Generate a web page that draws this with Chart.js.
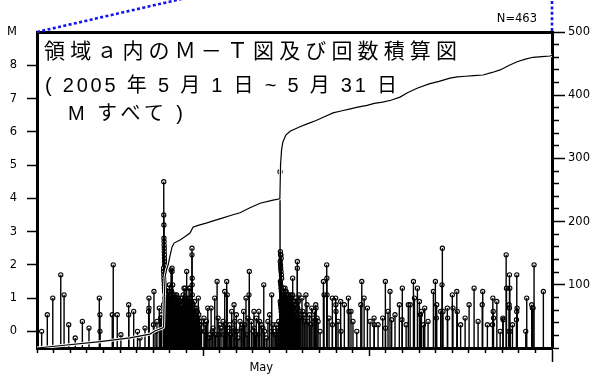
<!DOCTYPE html>
<html>
<head>
<meta charset="utf-8">
<script src="https://cdn.jsdelivr.net/npm/chart.js"></script>
<style>
html,body{margin:0;padding:0;background:#fff;}
#wrap{width:595px;height:376px;position:relative;}
</style>
</head>
<body>
<div id="wrap"><canvas id="c" width="595" height="376"></canvas></div>
<script>
// ---- data (time in days since 2005-05-01 00:00, magnitude M) ----
const eventDay = [
  // before the first large event
  0.28,0.62,0.95,1.43,1.63,1.91,2.73,3.13,3.75,3.79,3.79,4.53,4.59,4.83,5.52,5.52,5.82,6.20,6.50,6.72,6.74,6.74,7.01,7.04,7.16,7.22,7.36,7.44,7.50,
  2.30,5.05,6.05,
  // first large event (M4.5) column
  7.63,7.63,7.64,7.64,7.65,7.65,7.66,7.66,7.67,7.67,7.68,7.68,7.62,7.62,7.63,7.64,7.65,7.66,7.67,7.68,7.69,7.70,7.62,7.64,
  // its aftershocks
  7.71,7.74,7.77,7.80,7.83,7.86,7.89,7.92,7.97,8.01,8.04,8.07,8.10,8.13,8.13,8.16,8.17,8.20,8.22,8.25,
  8.28,8.31,8.34,8.37,8.41,8.44,8.46,8.49,8.52,8.57,8.61,8.64,8.67,8.71,8.74,8.79,8.82,8.85,8.88,8.91,
  8.94,8.97,9.01,9.04,9.06,9.09,9.12,9.15,9.18,9.21,9.24,9.27,9.33,9.33,9.34,9.34,9.35,9.35,9.36,9.36,
  9.42,9.48,9.55,9.62,9.71,9.78,9.87,
  7.72,7.73,7.75,7.76,7.78,7.79,7.81,7.82,7.84,7.85,7.87,7.88,7.90,7.91,7.93,7.94,7.96,7.99,8.02,8.05,8.08,8.11,8.15,8.19,8.24,8.30,
  8.33,8.36,8.39,8.43,8.47,8.51,8.54,8.56,8.59,8.63,8.66,8.69,8.73,8.77,8.80,8.84,8.87,8.90,8.93,8.96,
  8.99,9.03,9.08,9.11,9.14,9.17,9.20,9.23,9.26,9.29,9.31,9.39,9.45,9.51,9.58,9.65,9.68,9.74,9.82,9.90,
  // between the two large events
  10.05,10.28,10.48,10.70,10.84,11.08,11.30,11.42,11.45,11.72,11.86,11.98,12.22,12.44,12.58,12.78,12.76,13.06,13.08,13.35,13.65,14.13,14.27,
  10.15,10.40,10.90,11.20,11.60,12.00,12.30,12.90,13.20,13.50,13.90,14.00,14.40,
  10.10,10.35,10.60,10.75,11.00,11.25,11.55,11.80,12.10,12.35,12.65,13.00,13.30,13.60,13.80,14.10,14.35,14.50,
  10.20,10.55,10.95,11.35,11.65,11.90,12.05,12.50,12.70,13.15,13.40,13.70,14.20,14.45,14.55,
  // second large event (M4.8) column
  14.63,14.65,14.66,14.68,14.70,14.64,14.66,14.67,14.69,14.71,14.73,14.65,14.67,14.69,14.71,14.73,14.75,14.64,14.66,14.68,14.70,14.72,14.74,14.76,14.78,14.80,14.79,
  // its aftershocks
  14.84,14.87,14.90,14.93,14.96,14.99,15.02,15.05,15.08,15.11,15.14,15.17,15.20,15.23,15.26,15.29,15.32,15.35,15.39,15.39,
  15.42,15.44,15.47,15.50,15.53,15.56,15.59,15.62,15.67,15.67,15.69,15.73,15.77,15.80,15.83,
  14.82,14.85,14.88,14.91,14.94,14.97,15.00,15.03,15.06,15.09,15.12,
  14.83,14.86,14.89,14.92,14.95,14.98,15.01,15.04,15.07,15.10,15.13,15.16,15.19,15.22,15.25,15.28,15.31,15.34,15.37,15.41,
  15.88,16.00,16.12,16.25,16.40,16.48,16.70,16.86,
  // rest of the month
  15.95,16.07,16.19,16.31,16.54,16.62,16.78,16.80,16.92,17.04,
  17.24,17.28,17.44,17.45,17.46,17.58,17.78,17.78,17.98,17.99,
  18.00,18.12,18.28,18.30,18.50,18.74,18.78,18.90,19.02,19.25,
  19.49,19.55,19.69,19.89,20.05,20.29,20.30,20.53,20.81,20.97,
  20.98,21.13,21.25,21.35,21.55,21.81,21.99,21.97,22.22,22.35,
  22.46,22.66,22.72,22.90,23.02,23.08,23.14,23.26,23.34,23.54,
  23.86,23.98,24.06,24.04,24.30,24.40,24.38,24.44,24.70,24.72,
  25.00,25.04,25.27,25.30,25.50,25.77,26.01,26.31,26.55,26.83,
  26.80,27.11,27.44,27.46,27.48,27.42,27.68,27.88,28.04,28.06,
  28.24,28.26,28.44,28.46,28.42,28.44,28.40,28.48,28.62,28.88,
  28.90,28.88,28.86,29.42,29.48,29.78,29.82,29.86,29.92,30.48
];
const eventMag = [
  0.0,0.5,1.0,1.7,1.1,0.2,0.3,0.1,1.0,0.5,0.0,0.5,2.0,0.5,0.8,0.5,0.6,-0.2,0.1,0.6,1.0,0.7,0.2,1.2,0.0,0.3,0.7,0.4,0.5,
  -0.2,-0.1,0.0,
  4.5,3.5,3.2,2.8,2.7,2.6,2.5,2.4,2.3,2.2,2.1,2.0,1.9,1.8,1.7,1.6,1.5,1.4,1.3,1.2,1.0,0.9,0.8,0.6,
  1.4,0.9,0.6,1.1,0.4,0.8,1.2,0.5,1.4,0.7,1.0,1.85,0.3,1.8,1.9,0.8,1.4,0.6,1.1,0.9,
  0.4,1.1,0.7,1.0,1.1,0.5,0.8,0.3,1.0,0.9,0.6,0.2,0.65,0.6,0.9,0.4,0.7,1.3,0.5,1.3,
  0.8,0.6,1.8,0.4,1.0,0.7,0.3,1.3,0.9,1.3,0.5,0.8,2.5,2.3,1.6,1.4,1.1,0.8,0.55,0.35,
  0.6,0.9,0.4,0.7,1.0,0.3,0.0,
  0.7,1.1,0.3,0.8,1.0,0.5,0.2,0.9,0.6,1.3,0.4,0.7,1.0,0.3,0.8,0.6,1.1,0.5,0.9,0.4,0.7,1.2,0.5,1.0,0.6,0.8,
  0.6,0.9,0.4,0.8,1.0,0.5,0.7,0.3,0.9,0.6,1.0,0.4,0.8,0.5,1.1,0.6,0.9,0.3,0.7,1.0,
  0.5,0.8,0.4,0.9,0.6,1.0,0.5,0.7,0.3,0.9,0.6,0.8,0.5,0.7,0.3,0.6,0.4,0.5,0.2,0.3,
  0.4,0.7,0.7,1.0,1.5,0.1,1.2,1.5,1.1,0.6,0.8,0.0,0.3,0.6,1.0,1.8,1.1,0.6,0.1,0.6,1.4,1.1,0.0,
  0.2,-0.1,0.4,0.3,0.2,0.5,0.1,0.3,0.4,0.2,0.3,0.5,0.2,
  0.0,-0.2,0.1,-0.1,0.2,-0.1,0.0,0.1,-0.2,0.2,-0.1,0.0,-0.1,0.1,-0.2,0.0,-0.1,0.1,
  0.3,0.0,-0.1,0.2,-0.1,0.3,0.0,0.2,0.4,-0.1,0.3,0.0,0.2,-0.1,0.3,
  4.8,2.4,2.3,2.3,2.2,2.1,2.0,1.9,1.8,1.7,1.6,1.5,1.4,1.3,1.2,1.1,1.0,0.9,0.8,0.7,0.6,0.5,0.4,0.3,0.2,0.1,0.0,
  1.3,0.9,0.6,1.3,0.4,0.8,1.1,0.5,1.0,0.7,0.3,1.1,0.6,0.9,0.4,0.8,1.0,0.5,1.6,1.1,
  0.7,0.3,0.9,0.6,0.8,0.4,1.0,0.5,2.1,1.9,0.7,0.9,1.1,0.4,0.6,
  0.7,0.2,1.1,0.5,0.8,0.1,1.2,0.6,0.3,0.8,1.0,
  0.5,1.0,0.3,0.7,1.2,0.6,0.9,0.4,0.8,1.1,0.5,0.7,1.0,0.4,0.6,1.1,0.3,0.8,0.5,0.9,
  0.4,0.6,0.3,0.8,0.5,0.2,0.6,0.4,
  1.0,0.5,1.1,0.3,0.7,0.4,0.8,0.7,0.3,0.0,
  1.5,1.1,2.0,1.6,1.1,0.4,1.0,0.2,1.0,0.8,
  0.6,0.3,0.9,0.0,0.8,1.0,0.6,0.6,0.3,0.0,
  0.8,1.5,1.0,0.7,0.3,0.4,0.2,0.2,0.4,1.5,
  0.1,0.6,1.2,0.35,0.5,0.8,1.3,0.35,0.2,0.8,
  0.8,1.5,1.0,1.3,0.9,0.5,0.6,0.2,0.7,0.3,
  1.2,1.5,0.8,0.4,0.6,2.5,1.4,0.6,0.7,0.4,
  1.1,0.7,1.2,0.6,0.2,0.4,0.8,1.3,0.3,1.2,
  0.8,0.2,1.0,0.6,0.4,0.2,0.9,0.0,0.4,0.35,
  2.3,1.3,1.7,1.3,0.8,0.7,0.0,0.0,0.2,1.7,
  0.7,0.6,0.35,0.0,1.0,0.8,0.7,0.7,2.0,1.2
];
// cumulative number of events (right axis)
const cumDay = [0,1.5,3.8,5.6,6.8,7.1,7.58,7.62,7.66,7.71,7.8,7.9,8.0,8.13,8.25,8.61,8.9,9.21,9.39,9.7,
  10.23,10.7,11.2,11.7,12.22,12.82,13.43,14.21,14.62,14.66,14.72,14.8,14.98,15.23,15.83,16.3,16.8,17.3,17.82,18.3,
  18.8,19.3,19.87,20.3,20.8,21.3,21.85,22.3,22.88,23.6,24.2,24.86,25.3,25.8,26.3,26.85,27.4,27.88,28.4,28.9,
  29.4,29.86,30.4,30.88,31];
const cumCount = [0,4,10,16,22,27,32,34,80,112,124,132,145,160,166,171,176,182,191,194,
  198,202,206,210,214,222,229,234,236,290,313,326,337,343,350,355,360,366,372,375,
  378,381,384,387,389,392,397,404,411,418,422,427,429,430,431,432,436,440,447,453,
  457,460,461,462,463];

// ---- axes ----
const magTicks = [0,1,2,3,4,5,6,7,8,9];
const magTickLabels = ['0','1','2','3','4','5','6','7','8','M'];
const countTicks = [0,20,40,60,80,100,120,140,160,180,200,220,240,260,280,300,320,340,360,380,400,420,440,460,480,500];
const countLabelTicks = [100,200,300,400,500];
const dayTicks = [0,1,2,3,4,5,6,7,8,9,10,11,12,13,14,15,16,17,18,19,20,21,22,23,24,25,26,27,28,29,30,31];
const dayMidTicks = [10,20];
const dayEndTick = 31;
const monthLabel = 'May';
const titleLines = ['領域ａ内のＭ－Ｔ図及び回数積算図', '( 2005 年 5 月 1 日 ~ 5 月 31 日', 'M すべて )'];

const magFloor = -0.5, magCeil = 9;
const monthLabelAt = 13.5;

const stemData = eventDay.map((d, i) => ({x: d, y: [magFloor, eventMag[i]]}));
const dotData = eventDay.map((d, i) => ({x: d, y: eventMag[i]}));
const cumData = cumDay.map((d, i) => ({x: d, y: cumCount[i]}));
const tickFont = {family: '"DejaVu Sans", sans-serif', size: 11.5};

function drawFitted(ctx, text, x, y, width) {
  const hasLS = 'letterSpacing' in ctx;
  if (hasLS) ctx.letterSpacing = '0px';
  const w = ctx.measureText(text).width;
  const n = Array.from(text).length;
  if (hasLS && n > 1) ctx.letterSpacing = ((width - w) / (n - 1)) + 'px';
  ctx.fillText(text, x, y);
  if (hasLS) ctx.letterSpacing = '0px';
}

const overlayPlugin = {
  id: 'overlay',
  afterDraw(chart) {
    const {ctx, chartArea: ca} = chart;
    ctx.save();
    ctx.strokeStyle = '#1414f0';
    ctx.lineWidth = 2.6;
    ctx.setLineDash([3, 2.4]);
    ctx.beginPath();
    ctx.moveTo(ca.left, ca.top);
    ctx.lineTo(ca.left + 150, ca.top - 34.3);
    ctx.moveTo(ca.right, ca.top - 1);
    ctx.lineTo(ca.right, -2);
    ctx.stroke();
    ctx.setLineDash([]);
    ctx.fillStyle = '#000';
    ctx.font = '11.5px "DejaVu Sans"';
    ctx.textAlign = 'right';
    ctx.textBaseline = 'alphabetic';
    ctx.fillText('N=' + cumCount[cumCount.length - 1], ca.right - 15, 21.7);
    ctx.textAlign = 'left';
    ctx.font = '21px "Noto Sans CJK JP"';
    drawFitted(ctx, titleLines[0], ca.left + 7, 57.5, 413);
    ctx.font = '20px "Liberation Sans", "Noto Sans CJK JP"';
    drawFitted(ctx, titleLines[1], ca.left + 8, 92, 352);
    drawFitted(ctx, titleLines[2], ca.left + 31, 120, 115);
    ctx.restore();
  }
};

new Chart(document.getElementById('c'), {
  type: 'bar',
  data: {
    datasets: [
      {type: 'line', data: cumData, xAxisID: 'x', yAxisID: 'yN', borderColor: '#000', borderWidth: 1.2,
       pointRadius: 0, tension: 0, fill: false, order: 0},
      {type: 'line', data: cumData, xAxisID: 'x', yAxisID: 'yN', borderColor: '#fff', borderWidth: 3,
       pointRadius: 0, tension: 0, fill: false, order: 1},
      {type: 'line', data: dotData, xAxisID: 'x', yAxisID: 'y', showLine: false, pointRadius: 2.1,
       pointBorderWidth: 1.1, pointBackgroundColor: 'rgba(255,255,255,0)', pointBorderColor: '#000', borderColor: '#000', order: 2},
      {type: 'bar', data: stemData, xAxisID: 'x', yAxisID: 'y', backgroundColor: '#000', borderWidth: 0,
       barThickness: 1.4, inflateAmount: 0, order: 3}
    ]
  },
  options: {
    responsive: false,
    animation: false,
    events: [],
    devicePixelRatio: 1,
    layout: {padding: {top: 32, left: 0, right: 0, bottom: 0}},
    plugins: {legend: {display: false}, tooltip: {enabled: false}, title: {display: false}},
    scales: {
      x: {
        type: 'linear', position: 'bottom', min: 0, max: dayEndTick, offset: false,
        afterBuildTicks: s => { s.ticks = dayTicks.concat([monthLabelAt]).sort((a, b) => a - b).map(v => ({value: v})); },
        afterFit: s => { s.height = 28; },
        ticks: {autoSkip: false, maxRotation: 0, minRotation: 0, padding: -1, font: tickFont, color: '#000',
          callback: v => (v === monthLabelAt ? monthLabel : '')},
        grid: {display: true, drawOnChartArea: false, drawTicks: true, offset: false, tickLength: 14, tickColor: '#000',
          tickWidth: c => (c.tick && c.tick.value === monthLabelAt ? 0 : 1.5),
          tickBorderDash: c => {
            const v = c.tick ? c.tick.value : 0;
            if (v === dayEndTick) return [];
            if (dayMidTicks.includes(v)) return [6, 40];
            return [3, 40];
          }},
        border: {display: true, color: '#000', width: 3}
      },
      x2: {
        type: 'linear', position: 'top', min: 0, max: dayEndTick,
        afterFit: s => { s.height = 0; },
        ticks: {display: false},
        grid: {display: true, drawOnChartArea: false, drawTicks: false},
        border: {display: true, color: '#000', width: 3}
      },
      y: {
        type: 'linear', position: 'left', min: magFloor, max: magCeil,
        afterBuildTicks: s => { s.ticks = magTicks.map(v => ({value: v})); },
        afterFit: s => { s.width = 37; },
        ticks: {autoSkip: false, padding: 10, font: tickFont, color: '#000',
          callback: (v, i) => magTickLabels[i]},
        grid: {display: true, drawOnChartArea: false, tickLength: 10, tickColor: '#000',
          tickWidth: c => (c.tick && c.tick.value === magCeil ? 0 : 1.5)},
        border: {display: true, color: '#000', width: 3}
      },
      yN: {
        type: 'linear', position: 'right', min: 0, max: 500,
        afterBuildTicks: s => { s.ticks = countTicks.map(v => ({value: v})); },
        afterFit: s => { s.width = 43; },
        ticks: {autoSkip: false, padding: 3, font: tickFont, color: '#000',
          callback: v => (countLabelTicks.includes(v) ? String(v) : '')},
        grid: {display: true, drawOnChartArea: false, tickLength: 13, tickColor: '#000', tickWidth: 1.5,
          tickBorderDash: c => ((c.tick && countLabelTicks.includes(c.tick.value)) ? [] : [5, 40])},
        border: {display: true, color: '#000', width: 3}
      }
    }
  },
  plugins: [overlayPlugin]
});
</script>
</body>
</html>
